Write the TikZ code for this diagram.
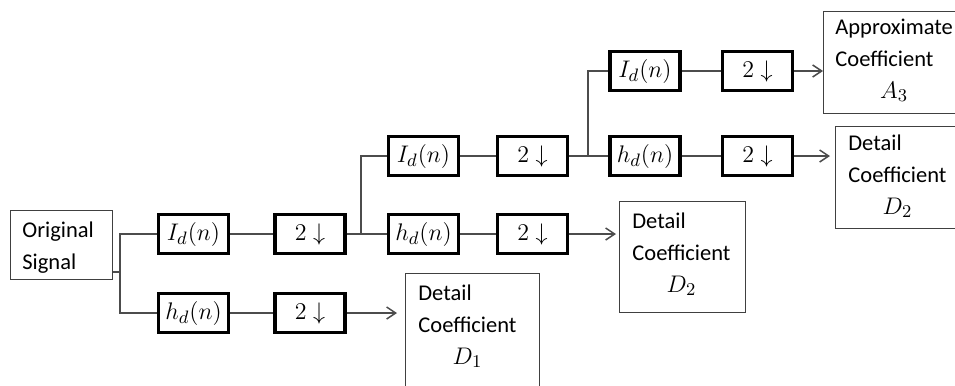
\documentclass[tikz,border=0pt]{standalone}
\usepackage{fontspec}
\setmainfont{Carlito}
\usetikzlibrary{arrows.meta}
% three-line caption for a coefficient output box
\newcommand\coefftext[2]{\begin{tabular}[t]{@{}l@{}}#1\\Coefficient\\\multicolumn{1}{@{}c@{}}{\fontsize{12.5pt}{16pt}\selectfont$#2$}\end{tabular}}
\begin{document}
\begin{tikzpicture}[x=0.5pt,y=-0.5pt,
  filt/.style={draw=black,line width=1.6pt,minimum width=35pt,minimum height=19.4pt,
    inner sep=0pt,font=\fontsize{13pt}{16pt}\selectfont},
  outbox/.style={draw=black!75,line width=0.7pt,inner sep=0pt,anchor=north west},
  lbl/.style={anchor=base west,inner sep=0pt,font=\fontsize{11.25pt}{16pt}\selectfont},
  wire/.style={draw=black!70,line width=0.75pt},
  arr/.style={wire,-{Straight Barb[length=4.5pt,width=6pt]}}]
\useasboundingbox (0,0) rectangle (955,386);

% input and output boxes
\node[outbox,minimum width=51pt,minimum height=34.5pt] (src) at (10,210) {};
\node[outbox,minimum width=67pt,minimum height=61pt] (D1) at (405,273) {};
\node[outbox,minimum width=63pt,minimum height=55.5pt] (D2m) at (619,201) {};
\node[outbox,minimum width=71pt,minimum height=51pt] (A3) at (823,11) {};
\node[outbox,minimum width=65pt,minimum height=51pt] (D2r) at (835,126) {};

\node[lbl] (srct) at (22,237) {\begin{tabular}[t]{@{}l@{}}Original\\Signal\end{tabular}};
\node[lbl] (D1t) at (418,300) {\coefftext{Detail}{D_1}};
\node[lbl] (D2mt) at (632,228) {\coefftext{Detail}{D_2}};
\node[lbl] (A3t) at (835,34) {\coefftext{Approximate}{A_3}};
\node[lbl] (D2rt) at (848,150) {\coefftext{Detail}{D_2}};

% level 1
\node[filt] (l1) at (193.5,234) {$I_d(n)$};
\node[filt] (d1) at (310,234) {$2\downarrow$};
\node[filt] (h1) at (193.5,313) {$h_d(n)$};
\node[filt] (e1) at (310,313) {$2\downarrow$};
% level 2
\node[filt] (l2) at (423.5,156) {$I_d(n)$};
\node[filt] (d2) at (532.5,156) {$2\downarrow$};
\node[filt] (h2) at (423.5,234) {$h_d(n)$};
\node[filt] (e2) at (532.5,234) {$2\downarrow$};
% level 3
\node[filt] (l3) at (645,71) {$I_d(n)$};
\node[filt] (d3) at (757.5,71) {$2\downarrow$};
\node[filt] (h3) at (645,156) {$h_d(n)$};
\node[filt] (e3) at (757.5,156) {$2\downarrow$};

% connectors
\coordinate (j0) at (120,272);
\coordinate (j1) at (361,234);
\coordinate (j2) at (588,156);

\draw[wire] (src.east |- j0) -- (j0);
\draw[wire] (l1.west) -| (j0) |- (h1.west);
\draw[wire] (l1) -- (d1);
\draw[wire] (h1) -- (e1);
\draw[arr,shorten >=4pt] (e1.east) -- (e1.east -| D1.west);

\draw[wire] (d1.east) -- (h2.west);
\draw[wire] (j1) |- (l2.west);
\draw[wire] (l2) -- (d2);
\draw[wire] (h2) -- (e2);
\draw[arr,shorten >=1.5pt] (e2.east) -- (e2.east -| D2m.west);

\draw[wire] (d2.east) -- (h3.west);
\draw[wire] (j2) |- (l3.west);
\draw[wire] (l3) -- (d3);
\draw[wire] (h3) -- (e3);
\draw[arr] (d3.east) -- (d3.east -| A3.west);
\draw[arr,shorten >=2.5pt] (e3.east) -- (e3.east -| D2r.west);
\end{tikzpicture}
\end{document}
